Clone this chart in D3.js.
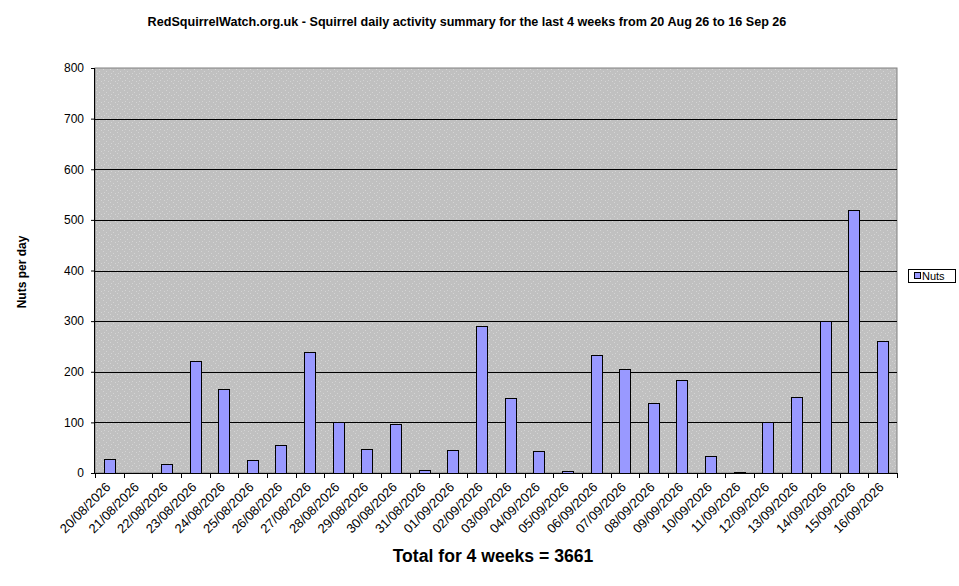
<!DOCTYPE html>
<html>
<head>
<meta charset="utf-8">
<script src="https://cdn.jsdelivr.net/npm/d3@7"></script>
<style>
  body { margin: 0; background: #fff; }
  svg { display: block; font-family: Arial, "Liberation Sans", sans-serif; }
</style>
</head>
<body>
<svg id="chart"></svg>
<script>
// data
const days = [
  '20/08/2026','21/08/2026','22/08/2026','23/08/2026','24/08/2026','25/08/2026','26/08/2026',
  '27/08/2026','28/08/2026','29/08/2026','30/08/2026','31/08/2026','01/09/2026','02/09/2026',
  '03/09/2026','04/09/2026','05/09/2026','06/09/2026','07/09/2026','08/09/2026','09/09/2026',
  '10/09/2026','11/09/2026','12/09/2026','13/09/2026','14/09/2026','15/09/2026','16/09/2026'
];
const nuts = [
  28, 0, 18, 221, 166, 26, 55,
  240, 100, 47, 97, 6, 45, 291,
  148, 43, 4, 234, 205, 138, 183,
  34, 2, 100, 150, 300, 520, 260
];
const yTicks = [0, 100, 200, 300, 400, 500, 600, 700, 800];
const seriesName = 'Nuts';
const titleText = 'RedSquirrelWatch.org.uk - Squirrel daily activity summary for the last 4 weeks from 20 Aug 26 to 16 Sep 26';

const width = 959, height = 586;
const margin = { top: 68, right: 62, bottom: 113, left: 95 };
const innerW = width - margin.left - margin.right;
const innerH = height - margin.top - margin.bottom;

const svg = d3.select('#chart').attr('width', width).attr('height', height);

// speckled grey fill like the original plot area
const pat = svg.append('defs').append('pattern')
  .attr('id', 'speckle')
  .attr('patternUnits', 'userSpaceOnUse')
  .attr('width', 7).attr('height', 7);
pat.append('rect').attr('width', 7).attr('height', 7).attr('fill', '#c0c0c0');
[[1, 1], [4, 3], [2, 5], [6, 6]].forEach(p => {
  pat.append('rect').attr('x', p[0]).attr('y', p[1]).attr('width', 1).attr('height', 1).attr('fill', '#d4d4d4');
});

svg.append('text')
  .attr('x', 467).attr('y', 26)
  .attr('text-anchor', 'middle')
  .attr('font-size', 12.6).attr('font-weight', 'bold')
  .text(titleText);

const g = svg.append('g').attr('transform', `translate(${margin.left},${margin.top})`);

const x = d3.scaleBand().domain(days).range([0, innerW]).padding(0);
const y = d3.scaleLinear().domain([0, 800]).range([innerH, 0]);

// plot background
g.append('rect')
  .attr('width', innerW).attr('height', innerH)
  .attr('fill', 'url(#speckle)')
  .attr('stroke', '#808080').attr('stroke-width', 1);

// gridlines
g.selectAll('line.grid')
  .data(yTicks.filter(d => d > 0 && d < 800))
  .enter().append('line')
  .attr('class', 'grid')
  .attr('x1', 0).attr('x2', innerW)
  .attr('y1', d => Math.round(y(d)) + 0.5).attr('y2', d => Math.round(y(d)) + 0.5)
  .attr('stroke', '#000');

// bars
const barW = x.bandwidth() / 2.5;
g.selectAll('rect.bar')
  .data(nuts)
  .enter().append('rect')
  .attr('class', 'bar')
  .attr('x', (d, i) => Math.round(x(days[i]) + (x.bandwidth() - barW) / 2) + 0.5)
  .attr('y', d => Math.round(y(d)) + 0.5)
  .attr('width', Math.round(barW))
  .attr('height', d => Math.round(innerH) - Math.round(y(d)))
  .attr('fill', '#9999ff')
  .attr('stroke', '#000').attr('stroke-width', 1);

// y axis
const yAxis = g.append('g')
  .call(d3.axisLeft(y).tickValues(yTicks).tickSize(4).tickPadding(7));
yAxis.select('.domain').attr('d', `M-0.5,0V${innerH}`).attr('stroke', '#000');
yAxis.selectAll('text').attr('font-size', 12).attr('font-family', 'Arial, "Liberation Sans", sans-serif');

// x axis, ticks on category boundaries
const xAxisG = g.append('g').attr('transform', `translate(0,${innerH})`);
xAxisG.append('line')
  .attr('x1', 0).attr('x2', innerW)
  .attr('y1', 0.5).attr('y2', 0.5)
  .attr('stroke', '#000');
xAxisG.selectAll('line.tick')
  .data(d3.range(days.length + 1))
  .enter().append('line')
  .attr('class', 'tick')
  .attr('x1', i => Math.round(i * x.step()) + 0.5)
  .attr('x2', i => Math.round(i * x.step()) + 0.5)
  .attr('y1', 0).attr('y2', 5)
  .attr('stroke', '#000');
xAxisG.selectAll('text')
  .data(days)
  .enter().append('text')
  .attr('transform', d => `translate(${x(d) + x.bandwidth() / 2 + 2},${15}) rotate(-45)`)
  .attr('text-anchor', 'end')
  .attr('font-size', 13)
  .text(d => d);

// y axis title
svg.append('text')
  .attr('transform', 'translate(26,272) rotate(-90)')
  .attr('text-anchor', 'middle')
  .attr('font-size', 12).attr('font-weight', 'bold')
  .text('Nuts per day');

// bottom total
svg.append('text')
  .attr('x', 493).attr('y', 562)
  .attr('text-anchor', 'middle')
  .attr('font-size', 17.6).attr('font-weight', 'bold')
  .text(`Total for 4 weeks = ${d3.sum(nuts)}`);

// legend
const lg = svg.append('g').attr('transform', 'translate(908,269)');
lg.append('rect')
  .attr('x', 0.5).attr('y', 0.5).attr('width', 47).attr('height', 13)
  .attr('fill', '#fff').attr('stroke', '#000');
lg.append('rect')
  .attr('x', 6.5).attr('y', 3.5).attr('width', 6).attr('height', 6)
  .attr('fill', '#9999ff').attr('stroke', '#000');
lg.append('text')
  .attr('x', 14).attr('y', 11)
  .attr('font-size', 11)
  .text(seriesName);
</script>
</body>
</html>
